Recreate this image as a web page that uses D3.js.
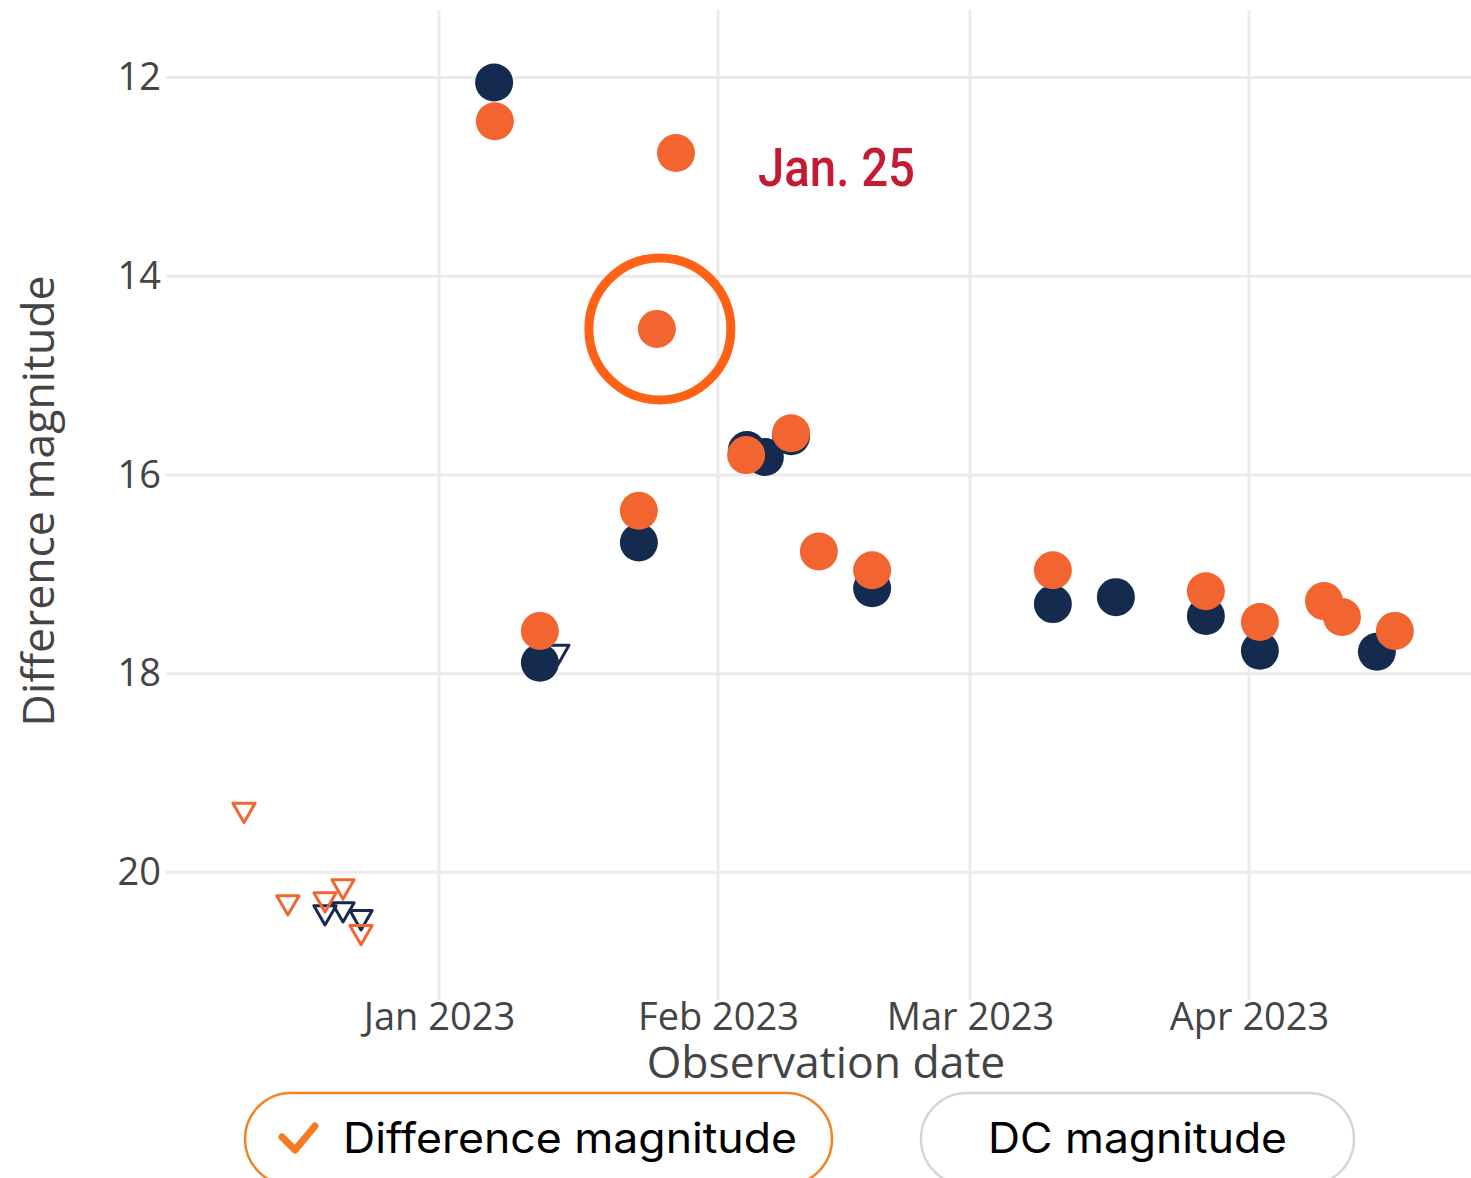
<!DOCTYPE html>
<html>
<head>
<meta charset="utf-8">
<script src="https://cdn.jsdelivr.net/npm/d3@7"></script>
<style>
  html, body { margin: 0; padding: 0; background: #fff; }
  svg { display: block; font-family: "Open Sans", sans-serif; }
</style>
</head>
<body>
<svg width="1471" height="1178"></svg>
<script>
/* globals d3 */

// detections (filled circles), observation time in UTC
var diffDates = ["2023-01-07T05", "2023-01-12T05", "2023-01-23T05", "2023-01-25T05", "2023-01-27T08", "2023-02-04T03",
  "2023-02-09T03", "2023-02-12T05", "2023-02-18T03", "2023-03-10T05", "2023-03-27T05", "2023-04-02T05",
  "2023-04-09T08", "2023-04-11T08", "2023-04-17T05"];
var diffMags = [12.44, 17.57, 16.36, 14.53, 12.76, 15.80, 15.58, 16.77, 16.96, 16.96, 17.17, 17.48, 17.27, 17.43, 17.57];

var dcDates = ["2023-01-07T03", "2023-01-12T05", "2023-01-23T05", "2023-02-04T05", "2023-02-06T05", "2023-02-09T03",
  "2023-02-18T03", "2023-03-10T05", "2023-03-17T05", "2023-03-27T05", "2023-04-02T05", "2023-04-15T05"];
var dcMags = [12.05, 17.89, 16.68, 15.75, 15.82, 15.61, 17.14, 17.30, 17.23, 17.42, 17.77, 17.78];

// upper limits (open triangles)
var diffLimDates = ["2022-12-10T08", "2022-12-15T05", "2022-12-19T08", "2022-12-21T08", "2022-12-23T08"];
var diffLimMags = [19.37, 20.30, 20.27, 20.14, 20.60];

var dcLimDates = ["2022-12-19T08", "2022-12-21T08", "2022-12-23T08", "2023-01-14T05"];
var dcLimMags = [20.40, 20.37, 20.45, 17.78];

var yTicks = [12, 14, 16, 18, 20];
var xTicks = ["2023-01-01T00", "2023-02-01T00", "2023-03-01T00", "2023-04-01T00"];
var highlightDate = "2023-01-25T05", highlightMag = 14.53, highlightLabel = "Jan. 25";
var legendLabels = ["Difference magnitude", "DC magnitude"];

var orange = "#f26430", navy = "#152a4f";

var svg = d3.select("svg"),
  plot = {left: 166, right: 1471, top: 10, bottom: 1000};

var parse = d3.utcParse("%Y-%m-%dT%H");

var x = d3.scaleUtc()
  .domain([new Date(Date.UTC(2022, 11, 1, 16)), new Date(Date.UTC(2023, 3, 25, 16))])
  .range([plot.left, plot.right]);
var y = d3.scaleLinear().domain([11.32, 21.285]).range([plot.top, plot.bottom]);

function zip(dates, mags) {
  return dates.map(function(d, i) { return {date: parse(d), mag: mags[i]}; });
}

// grid
svg.append("g")
  .selectAll("line")
  .data(yTicks)
  .enter().append("line")
  .attr("x1", plot.left).attr("x2", plot.right)
  .attr("y1", function(d) { return y(d); })
  .attr("y2", function(d) { return y(d); })
  .attr("stroke", "#ebebeb").attr("stroke-width", 3);

svg.append("g")
  .selectAll("line")
  .data(xTicks)
  .enter().append("line")
  .attr("x1", function(d) { return x(parse(d)); })
  .attr("x2", function(d) { return x(parse(d)); })
  .attr("y1", plot.top).attr("y2", plot.bottom)
  .attr("stroke", "#ebebeb").attr("stroke-width", 3);

// axes
var yAxis = svg.append("g")
  .attr("transform", "translate(" + plot.left + ",0)")
  .call(d3.axisLeft(y).tickValues(yTicks).tickSize(0).tickPadding(5));
yAxis.select(".domain").remove();
yAxis.selectAll("text")
  .attr("font-family", "Open Sans").attr("font-size", 38).attr("fill", "#444");

var xAxis = svg.append("g")
  .attr("transform", "translate(0," + plot.bottom + ")")
  .call(d3.axisBottom(x).tickValues(xTicks.map(parse)).tickFormat(d3.utcFormat("%b %Y")).tickSize(0).tickPadding(3));
xAxis.select(".domain").remove();
xAxis.selectAll("text")
  .attr("font-family", "Open Sans").attr("font-size", 38).attr("fill", "#444");

svg.append("text")
  .attr("x", 826).attr("y", 1078)
  .attr("text-anchor", "middle")
  .attr("font-size", 44.5).attr("fill", "#444")
  .text("Observation date");

svg.append("text")
  .attr("transform", "translate(54,501) rotate(-90)")
  .attr("text-anchor", "middle")
  .attr("font-size", 44.5).attr("fill", "#444")
  .text("Difference magnitude");

// DC series first, difference on top
var tri = d3.symbol().type(d3.symbolTriangle).size(215);

function limits(data, color) {
  svg.append("g")
    .selectAll("path")
    .data(data)
    .enter().append("path")
    .attr("d", tri)
    .attr("transform", function(d) { return "translate(" + x(d.date) + "," + y(d.mag) + ") rotate(180)"; })
    .attr("fill", "none")
    .attr("stroke", color)
    .attr("stroke-width", 3)
    .attr("stroke-linejoin", "round");
}

function dots(data, color) {
  svg.append("g")
    .selectAll("circle")
    .data(data)
    .enter().append("circle")
    .attr("cx", function(d) { return x(d.date); })
    .attr("cy", function(d) { return y(d.mag); })
    .attr("r", 19)
    .attr("fill", color);
}

dots(zip(dcDates, dcMags), navy);
limits(zip(dcLimDates, dcLimMags), navy);
dots(zip(diffDates, diffMags), orange);
limits(zip(diffLimDates, diffLimMags), orange);

// highlight
svg.append("circle")
  .attr("cx", x(parse(highlightDate)) + 3)
  .attr("cy", y(highlightMag))
  .attr("r", 71)
  .attr("fill", "none")
  .attr("stroke", "#ff6215")
  .attr("stroke-width", 9);

svg.append("text")
  .attr("x", 758).attr("y", 186)
  .attr("font-family", "Roboto").attr("font-weight", 500)
  .attr("font-size", 53)
  .attr("textLength", 157).attr("lengthAdjust", "spacingAndGlyphs")
  .attr("fill", "#c41b33")
  .text(highlightLabel);

// legend buttons
var legend = svg.append("g");
legend.append("rect")
  .attr("x", 245).attr("y", 1093).attr("width", 587).attr("height", 92).attr("rx", 46)
  .attr("fill", "#fff").attr("stroke", "#f58220").attr("stroke-width", 2.5);
legend.append("path")
  .attr("d", "M282,1137 L295,1150 L315,1126")
  .attr("fill", "none").attr("stroke", "#f47b20").attr("stroke-width", 7)
  .attr("stroke-linecap", "round").attr("stroke-linejoin", "round");
legend.append("text")
  .attr("x", 343).attr("y", 1153)
  .attr("font-family", "Inter, sans-serif").attr("font-size", 42)
  .attr("textLength", 454).attr("lengthAdjust", "spacingAndGlyphs")
  .attr("fill", "#000")
  .text(legendLabels[0]);

legend.append("rect")
  .attr("x", 921).attr("y", 1093).attr("width", 433).attr("height", 92).attr("rx", 46)
  .attr("fill", "#fff").attr("stroke", "#d2d6dc").attr("stroke-width", 2.5);
legend.append("text")
  .attr("x", 988).attr("y", 1153)
  .attr("font-family", "Inter, sans-serif").attr("font-size", 42)
  .attr("textLength", 299).attr("lengthAdjust", "spacingAndGlyphs")
  .attr("fill", "#000")
  .text(legendLabels[1]);
</script>
</body>
</html>
